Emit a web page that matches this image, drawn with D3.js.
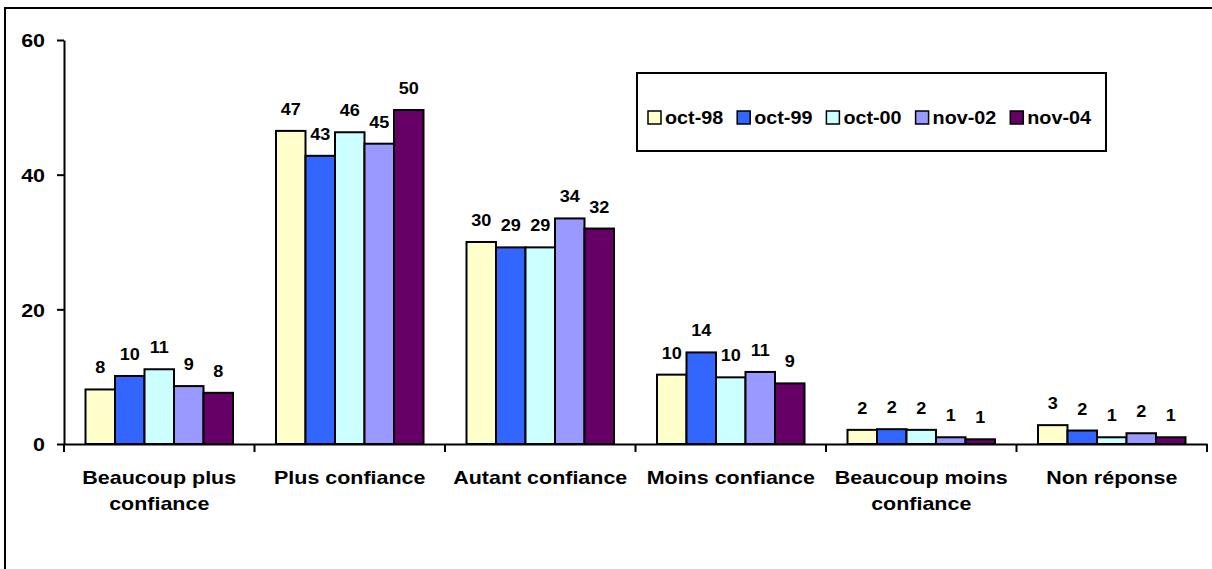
<!DOCTYPE html>
<html>
<head>
<meta charset="utf-8">
<script src="https://cdn.jsdelivr.net/npm/d3@7"></script>
<style>
  body { margin: 0; background: #fff; }
  text { font-family: "Liberation Sans", Arial, sans-serif; font-weight: bold; fill: #000; }
</style>
</head>
<body>
<script>
// data
const categories = ["Beaucoup plus confiance", "Plus confiance", "Autant confiance", "Moins confiance", "Beaucoup moins confiance", "Non réponse"]
const catLines = [["Beaucoup plus", "confiance"], ["Plus confiance"], ["Autant confiance"], ["Moins confiance"], ["Beaucoup moins", "confiance"], ["Non réponse"]]
const series = ["oct-98", "oct-99", "oct-00", "nov-02", "nov-04"]
const oct98 = [8.1, 46.5, 30.0, 10.3, 2.1, 2.8]
const oct99 = [10.1, 42.8, 29.2, 13.6, 2.2, 2.0]
const oct00 = [11.1, 46.3, 29.2, 9.9, 2.1, 1.0]
const nov02 = [8.6, 44.6, 33.5, 10.7, 1.0, 1.6]
const nov04 = [7.6, 49.6, 32.0, 9.0, 0.7, 1.0]
const yTicks = [0, 20, 40, 60]
const colors = ["#FFFFCC", "#3366FF", "#CCFFFF", "#9999FF", "#660066"]

const values = [oct98, oct99, oct00, nov02, nov04]
const W = 1212, H = 569
const sx = 1.13 // text is a bit wider than tall in the original

const svg = d3.select("body").append("svg")
    .attr("width", W)
    .attr("height", H)

// outer frame (cut off on right and bottom)
svg.append("path")
    .attr("d", "M5," + H + " V8 H" + W)
    .attr("fill", "none")
    .attr("stroke", "#000")
    .attr("stroke-width", 2)

const x0 = d3.scaleBand().domain(categories).range([64, 1207])
const x1 = d3.scaleBand().domain(series).range([21.5, x0.bandwidth() - 21.5])
const y = d3.scaleLinear().domain([0, 60]).range([444, 40])

// bars
const groups = svg.selectAll(".grp")
    .data(categories)
    .enter().append("g")
    .attr("class", "grp")
    .attr("transform", d => "translate(" + x0(d) + ",0)")

groups.selectAll("rect")
    .data((c, ci) => series.map((s, si) => ({ s: s, si: si, v: values[si][ci] })))
    .enter().append("rect")
    .attr("x", d => x1(d.s))
    .attr("y", d => y(d.v))
    .attr("width", x1.bandwidth())
    .attr("height", d => y(0) - y(d.v))
    .attr("fill", d => colors[d.si])
    .attr("stroke", "#000")
    .attr("stroke-width", 2)

groups.selectAll(".val")
    .data((c, ci) => series.map((s, si) => ({ s: s, si: si, v: values[si][ci] })))
    .enter().append("text")
    .attr("class", "val")
    .attr("transform", d => "translate(" + (x1(d.s) + x1.bandwidth() / 2) + "," + (y(d.v) - 16) + ") scale(" + sx + ",1)")
    .attr("text-anchor", "middle")
    .style("font-size", "16px")
    .text(d => Math.round(d.v))

// y axis
const yAxis = svg.append("g")
    .attr("transform", "translate(64,0)")
    .call(d3.axisLeft(y).tickValues(yTicks).tickSize(7).tickPadding(9.8).tickSizeOuter(0))
yAxis.select(".domain").attr("stroke-width", 2)
yAxis.selectAll(".tick line").attr("stroke-width", 2)
yAxis.selectAll("text")
    .attr("transform", "scale(" + sx + ",1)")
    .style("font-size", "19px")
    .style("font-family", "Liberation Sans, Arial, sans-serif")
    .style("font-weight", "bold")
    .attr("dy", "0.36em")

// x axis
const xAxis = svg.append("g")
    .attr("transform", "translate(0,444)")
    .call(d3.axisBottom(x0).tickSize(0).tickFormat(""))
xAxis.select(".domain").attr("stroke-width", 2)
const bounds = categories.map(c => x0(c)).concat([x0.range()[1]])
xAxis.selectAll(".bound")
    .data(bounds)
    .enter().append("line")
    .attr("x1", d => d).attr("x2", d => d)
    .attr("y1", 0).attr("y2", 8)
    .attr("stroke", "#000")
    .attr("stroke-width", 2)

// category labels
const catText = svg.selectAll(".cat")
    .data(categories)
    .enter().append("text")
    .attr("class", "cat")
    .attr("text-anchor", "middle")
    .attr("transform", d => "translate(" + (x0(d) + x0.bandwidth() / 2) + ",484) scale(" + sx + ",1)")
    .style("font-size", "19px")
catText.selectAll("tspan")
    .data((d, i) => catLines[i])
    .enter().append("tspan")
    .attr("x", 0)
    .attr("y", (d, i) => i * 26)
    .text(d => d)

// legend
const legend = svg.append("g")
legend.append("rect")
    .attr("x", 637).attr("y", 73)
    .attr("width", 469).attr("height", 78)
    .attr("fill", "#fff")
    .attr("stroke", "#000")
    .attr("stroke-width", 2)

let lx = 648
series.forEach((s, i) => {
    legend.append("rect")
        .attr("x", lx).attr("y", 111)
        .attr("width", 13).attr("height", 13)
        .attr("fill", colors[i])
        .attr("stroke", "#000")
        .attr("stroke-width", 1.5)
    const t = legend.append("text")
        .attr("transform", "translate(" + (lx + 17) + ",123.5) scale(" + sx + ",1)")
        .style("font-size", "17.5px")
        .text(s)
    lx += 17 + t.node().getComputedTextLength() * sx + 14
})
</script>
</body>
</html>
